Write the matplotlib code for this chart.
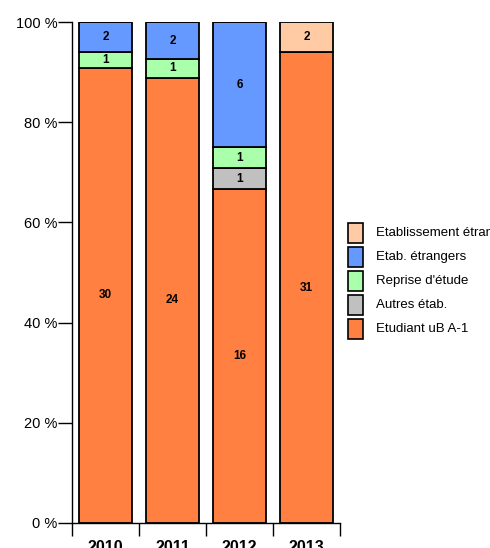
import matplotlib
matplotlib.use("Agg")
import matplotlib.pyplot as plt
from matplotlib.patches import Rectangle
import numpy as np

plt.rcParams['font.family'] = ['Liberation Sans', 'DejaVu Sans']

years = ["2010", "2011", "2012", "2013"]
series_names = ["Etudiant uB A-1", "Autres étab.", "Reprise d'étude", "Etab. étrangers", "Etablissement étranger"]
etudiant = [30, 24, 16, 31]
autres = [0, 0, 1, 0]
reprise = [1, 1, 1, 0]
etab_etr = [2, 2, 6, 0]
etablissement = [0, 0, 0, 2]
colors = ["#FF8040", "#C0C0C0", "#AAFFAA", "#6699FF", "#FFCBA4"]

data = np.array([etudiant, autres, reprise, etab_etr, etablissement], dtype=float)
totals = data.sum(axis=0)
pct = data / totals * 100

fig = plt.figure(figsize=(4.9, 5.48), dpi=100)
ax = fig.add_axes([72/490, 1-523/548, (340-72)/490, (523-22)/548])

x = np.arange(len(years))
bottom = np.zeros(len(years))
for i in range(len(series_names)):
    ax.bar(x, pct[i], 0.8, bottom=bottom, color=colors[i], edgecolor="black", linewidth=1.3, zorder=2)
    for j in range(len(years)):
        if data[i, j] > 0:
            ax.text(x[j], bottom[j] + pct[i, j] / 2, f"{int(data[i, j])}", ha="center", va="center",
                    fontsize=8.5, fontweight="bold", zorder=3)
    bottom += pct[i]

ax.set_xlim(-0.5, len(years) - 0.5)
ax.set_ylim(0, 100)
ax.set_yticks([0, 20, 40, 60, 80, 100])
ax.set_yticklabels([f"{v} %" for v in [0, 20, 40, 60, 80, 100]], fontsize=10.5)
ax.tick_params(axis="y", direction="out", length=10, width=1, pad=0.5)

ax.set_xticks(np.arange(len(years) + 1) - 0.5)
ax.set_xticklabels([])
ax.tick_params(axis="x", which="major", direction="out", length=9.4, width=1)
ax.set_xticks(x, minor=True)
ax.set_xticklabels(years, minor=True, fontsize=11.5, fontweight="bold")
ax.tick_params(axis="x", which="minor", length=0, pad=12)

for s in ["top", "right"]:
    ax.spines[s].set_visible(False)
ax.spines["left"].set_linewidth(1)
ax.spines["bottom"].set_linewidth(1)

# legend drawn manually in figure pixels
W, H = 490, 548
entries = list(zip(series_names, colors))[::-1]
y0 = 233
dy = 24
for k, (name, col) in enumerate(entries):
    yc = y0 + k * dy
    fig.patches.append(Rectangle((348/W, 1-(yc+10)/H), 15/W, 20/H, transform=fig.transFigure,
                                 facecolor=col, edgecolor="black", linewidth=1.2))
    fig.text(376/W, 1-yc/H, name, fontsize=9.5, va="center", ha="left")

fig.savefig("out.png", dpi=100)
